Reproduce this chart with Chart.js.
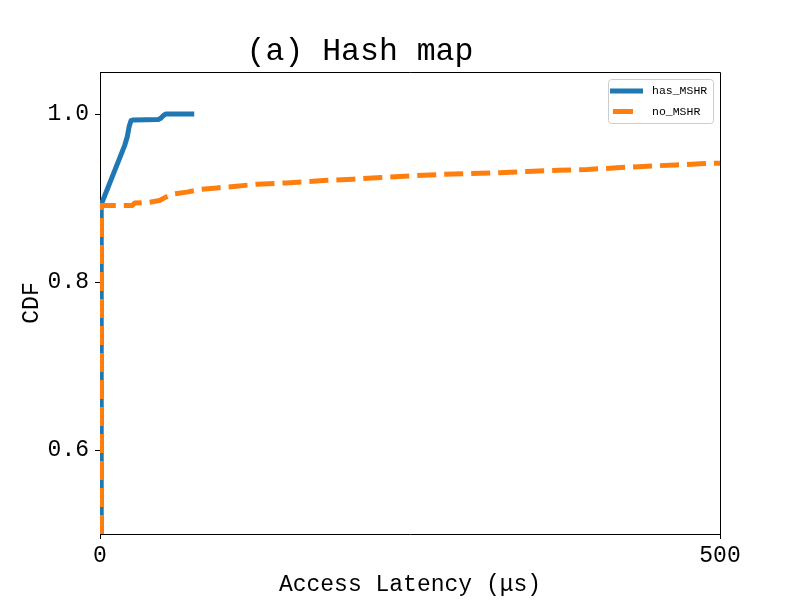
<!DOCTYPE html>
<html>
<head>
<meta charset="utf-8">
<script src="https://cdn.jsdelivr.net/npm/chart.js@4"></script>
<style>
  html, body { margin: 0; padding: 0; background: #fff; }
  canvas { display: block; }
</style>
</head>
<body>
<canvas id="c" width="800" height="600"></canvas>
<script>
const FONT = "'Liberation Mono', 'DejaVu Sans Mono', monospace";

const chartTitle = "(a) Hash map";
const xAxisTitle = "Access Latency (μs)";
const yAxisTitle = "CDF";
const seriesNames = ["has_MSHR", "no_MSHR"];
const xTickValues = [0, 500];
const yTickValues = [0.6, 0.8, 1.0];

const hasX = [1, 1, 2, 20, 22, 23.5, 25, 27, 47, 49, 51, 53, 76];
const hasY = [0.5, 0.893, 0.896, 0.963, 0.973, 0.985, 0.992, 0.993, 0.9935, 0.995, 0.998, 1.0, 1.0];

const noX = [1, 1, 26, 28, 40, 48, 53, 60, 70, 80, 94, 110, 127, 150, 180, 204, 227, 251, 274, 298, 321, 345, 369, 393, 417, 441, 464, 488, 500];
const noY = [0.5, 0.891, 0.891, 0.894, 0.895, 0.897, 0.901, 0.905, 0.907, 0.910, 0.912, 0.914, 0.9165, 0.918, 0.9207, 0.9224, 0.9244, 0.9263, 0.928, 0.929, 0.930, 0.9316, 0.933, 0.934, 0.936, 0.9378, 0.9394, 0.941, 0.9415];

const BLUE = '#1f77b4';
const ORANGE = '#ff7f0e';

const toPts = (xs, ys) => xs.map((x, i) => ({ x: x, y: ys[i] }));

const framePlugin = {
  id: 'frame',
  afterDraw(chart) {
    const ctx = chart.ctx;
    const a = chart.chartArea;
    ctx.save();
    ctx.strokeStyle = '#000';
    ctx.lineWidth = 1;
    ctx.beginPath();
    ctx.moveTo(a.left, a.top + 0.5);
    ctx.lineTo(a.right + 0.5, a.top + 0.5);
    ctx.lineTo(a.right + 0.5, a.bottom);
    ctx.stroke();

    // legend
    const lx = 608, ly = 79, lw = 105, lh = 44;
    ctx.fillStyle = 'rgba(255,255,255,0.8)';
    ctx.strokeStyle = '#cccccc';
    ctx.beginPath();
    ctx.roundRect(lx + 0.5, ly + 0.5, lw, lh, 3);
    ctx.fill();
    ctx.stroke();

    ctx.lineCap = 'butt';
    ctx.lineWidth = 5;
    ctx.strokeStyle = BLUE;
    ctx.beginPath();
    ctx.moveTo(610, 91);
    ctx.lineTo(643, 91);
    ctx.stroke();

    ctx.strokeStyle = ORANGE;
    ctx.beginPath();
    ctx.moveTo(613, 111.5);
    ctx.lineTo(633, 111.5);
    ctx.stroke();

    ctx.fillStyle = '#000';
    ctx.font = "11.5px " + FONT;
    ctx.textBaseline = 'middle';
    ctx.textAlign = 'left';
    ctx.fillText(seriesNames[0], 652, 91);
    ctx.fillText(seriesNames[1], 652, 111.5);
    ctx.restore();
  }
};

new Chart(document.getElementById('c'), {
  type: 'line',
  data: {
    datasets: [
      {
        label: seriesNames[0],
        data: toPts(hasX, hasY),
        borderColor: BLUE,
        backgroundColor: BLUE,
        borderWidth: 5,
        pointRadius: 0,
        tension: 0,
        fill: false,
        clip: 0,
        borderJoinStyle: 'round',
        borderCapStyle: 'butt',
        order: 1
      },
      {
        label: seriesNames[1],
        data: toPts(noX, noY),
        borderColor: ORANGE,
        backgroundColor: ORANGE,
        borderWidth: 5,
        borderDash: [19, 8],
        pointRadius: 0,
        tension: 0,
        fill: false,
        clip: 0,
        borderJoinStyle: 'round',
        borderCapStyle: 'butt',
        order: 0
      }
    ]
  },
  options: {
    responsive: false,
    animation: false,
    events: [],
    layout: { padding: { left: 0, right: 80, top: 0, bottom: 0 } },
    plugins: {
      legend: { display: false },
      tooltip: { enabled: false },
      title: {
        display: true,
        text: chartTitle,
        color: '#000',
        font: { family: FONT, size: 31.5, weight: 'normal', lineHeight: 1.2 },
        padding: { top: 33, bottom: 1.2 }
      }
    },
    scales: {
      x: {
        type: 'linear',
        min: 0,
        max: 500,
        afterFit(s) { s.height = 66; },
        afterBuildTicks(s) { s.ticks = xTickValues.map(v => ({ value: v })); },
        ticks: {
          color: '#000',
          font: { family: FONT, size: 23 },
          padding: 3,
          maxRotation: 0,
          autoSkip: false,
          callback: v => String(v)
        },
        grid: { display: true, drawOnChartArea: false, drawTicks: true, tickLength: 5, color: '#000', tickWidth: 1 },
        border: { display: true, color: '#000', width: 1 },
        title: {
          display: true,
          text: xAxisTitle,
          color: '#000',
          font: { family: FONT, size: 23 },
          padding: { top: 0, bottom: 1 }
        }
      },
      y: {
        type: 'linear',
        min: 0.5,
        max: 1.05,
        afterFit(s) { s.width = 100; },
        afterBuildTicks(s) { s.ticks = yTickValues.map(v => ({ value: v })); },
        ticks: {
          color: '#000',
          font: { family: FONT, size: 23 },
          padding: 6,
          autoSkip: false,
          callback: v => Number(v).toFixed(1)
        },
        grid: { display: true, drawOnChartArea: false, drawTicks: true, tickLength: 5, color: '#000', tickWidth: 1 },
        border: { display: true, color: '#000', width: 1 },
        title: {
          display: true,
          text: yAxisTitle,
          color: '#000',
          font: { family: FONT, size: 23 },
          padding: { top: 18, bottom: 0 }
        }
      }
    }
  },
  plugins: [framePlugin]
});
</script>
</body>
</html>
